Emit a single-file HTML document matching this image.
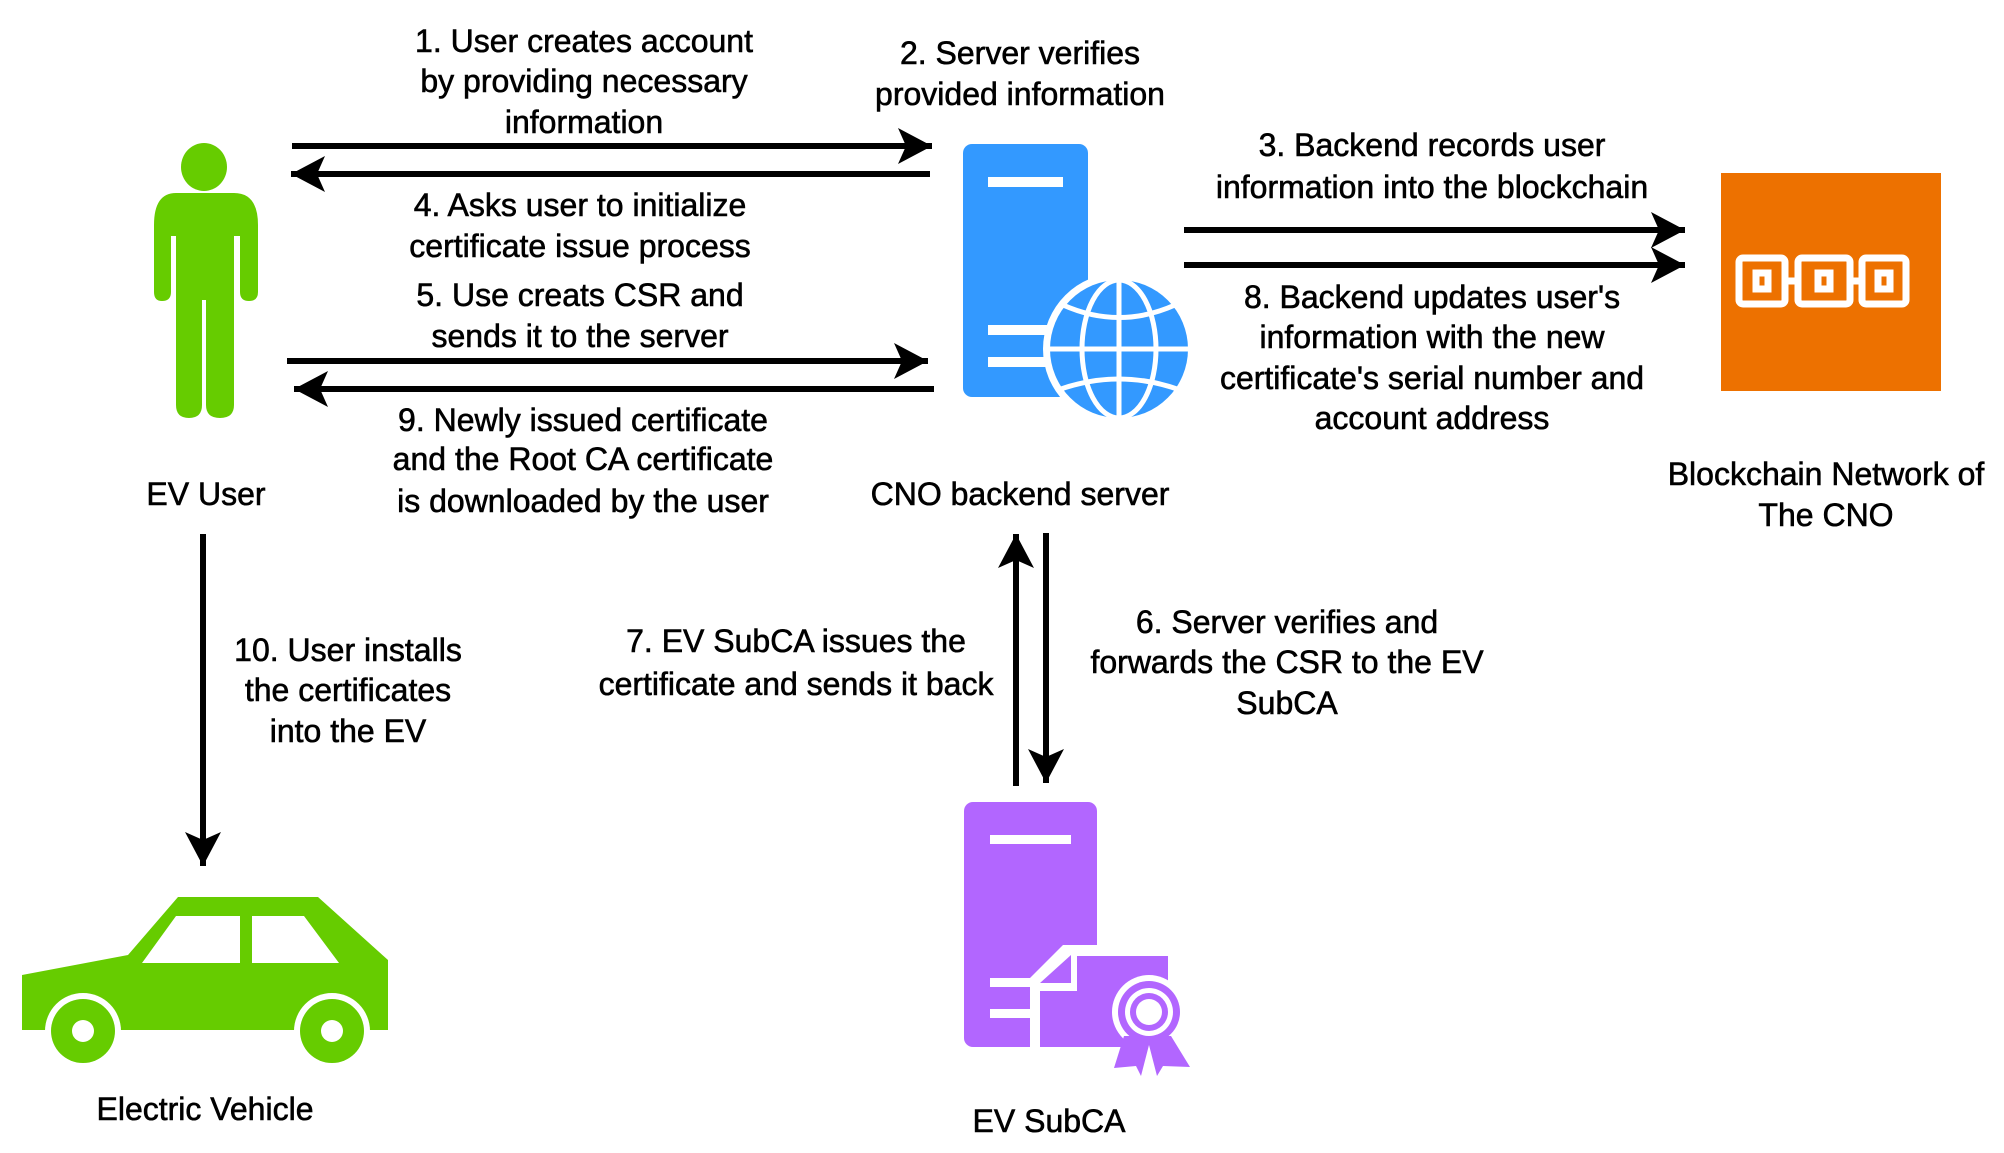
<!DOCTYPE html>
<html><head><meta charset="utf-8"><style>
html,body{margin:0;padding:0;background:#fff;}
svg{display:block;}
text{font-family:"Liberation Sans",Arial,sans-serif;font-size:32px;fill:#000;stroke:#000;stroke-width:0.6;text-anchor:middle;dominant-baseline:central;}
</style></head><body>
<svg width="2004" height="1153" viewBox="0 0 2004 1153" xmlns="http://www.w3.org/2000/svg">
<defs>
<marker id="ah" markerUnits="userSpaceOnUse" markerWidth="40" markerHeight="40" refX="34" refY="18" orient="auto">
<path d="M0,0 L34,18 L0,36 L8,18 Z" fill="#000"/>
</marker>
</defs>
<g stroke="#000" stroke-width="6" fill="none" marker-end="url(#ah)">
<line x1="292" y1="146" x2="932" y2="146"/>
<line x1="930" y1="174" x2="291" y2="174"/>
<line x1="287" y1="361" x2="928" y2="361"/>
<line x1="934" y1="389" x2="294" y2="389"/>
<line x1="1184" y1="230" x2="1685" y2="230"/>
<line x1="1184" y1="265" x2="1685" y2="265"/>
<line x1="203" y1="534" x2="203" y2="866"/>
<line x1="1016" y1="786" x2="1016" y2="534"/>
<line x1="1046" y1="533" x2="1046" y2="783"/>
</g>

<!-- person -->
<g fill="#66cc00">
<ellipse cx="204" cy="167" rx="23" ry="24"/>
<path d="M176,193 H234 Q258,193 258,225 V292 Q258,301 249,301 Q240,301 240,292 V236 H234 V405 Q234,418 220,418 Q206,418 206,405 V300 H202 V405 Q202,418 189,418 Q176,418 176,405 V236 H171 V292 Q171,301 162,301 Q154,301 154,292 V225 Q154,193 176,193 Z"/>
</g>

<!-- car -->
<g>
<path d="M22,975 L128,955 L178,897 L318,897 L388,960 L388,1030 L22,1030 Z" fill="#66cc00"/>
<path d="M142,963 L176,916 L240,916 L240,963 Z M252,916 L304,916 L339,963 L252,963 Z" fill="#fff"/>
<circle cx="83" cy="1031" r="38" fill="#fff"/>
<circle cx="332" cy="1031" r="38" fill="#fff"/>
<circle cx="83" cy="1031" r="32" fill="#66cc00"/>
<circle cx="332" cy="1031" r="32" fill="#66cc00"/>
<circle cx="83" cy="1031" r="11" fill="#fff"/>
<circle cx="332" cy="1031" r="11" fill="#fff"/>
</g>

<!-- CNO server -->
<g>
<rect x="963" y="144" width="125" height="253" rx="9" fill="#3399ff"/>
<rect x="988" y="177" width="75" height="10" fill="#fff"/>
<rect x="988" y="325" width="60" height="10" fill="#fff"/>
<rect x="988" y="357" width="60" height="10" fill="#fff"/>
<circle cx="1119" cy="349" r="76" fill="#fff"/>
<circle cx="1119" cy="349" r="69" fill="#3399ff"/>
<g stroke="#fff" stroke-width="5" fill="none">
<line x1="1119" y1="280" x2="1119" y2="418"/>
<ellipse cx="1119" cy="349" rx="37" ry="69"/>
<line x1="1050" y1="349" x2="1188" y2="349"/>
<path d="M1063,305 Q1119,330 1175,305"/>
<path d="M1058,390 Q1119,368 1180,390"/>
</g>
</g>

<!-- Blockchain -->
<rect x="1721" y="173" width="220" height="218" fill="#ed7100"/>
<g fill="none" stroke="#fff" stroke-width="7">
<rect x="1739" y="258" width="46" height="46" rx="4"/>
<rect x="1798" y="258" width="52" height="46" rx="4"/>
<rect x="1862" y="258" width="44" height="46" rx="4"/>
<rect x="1756" y="273" width="12" height="16"/>
<rect x="1818" y="273" width="12" height="16"/>
<rect x="1878" y="273" width="12" height="16"/>
<line x1="1785" y1="281" x2="1798" y2="281"/>
<line x1="1850" y1="281" x2="1862" y2="281"/>
</g>

<!-- SubCA -->
<g>
<rect x="964" y="802" width="133" height="245" rx="9" fill="#b266ff"/>
<rect x="990" y="835" width="81" height="9" fill="#fff"/>
<rect x="990" y="978" width="42" height="9" fill="#fff"/>
<rect x="990" y="1009" width="42" height="9" fill="#fff"/>
<path d="M1030,1050 L1030,978 L1063,945 L1100,945 L1100,1050 Z" fill="#fff"/>
<path d="M1040,991 L1077,991 L1077,956 L1168,956 L1168,1047 L1040,1047 Z" fill="#b266ff"/>
<path d="M1040,983 L1071,955 L1071,983 Z" fill="#b266ff"/>
<circle cx="1149" cy="1012" r="37" fill="#fff"/>
<path d="M1124,1036 L1114,1068 L1136,1066 L1141,1076 L1149,1045 L1157,1076 L1163,1066 L1190,1067 L1171,1036 Z" fill="#b266ff"/>
<circle cx="1149" cy="1012" r="31" fill="#b266ff"/>
<circle cx="1149" cy="1012" r="24" fill="#fff"/>
<circle cx="1149" cy="1012" r="19" fill="#b266ff"/>
<circle cx="1149" cy="1012" r="13" fill="#fff"/>
</g>

<!-- labels -->
<text x="584" y="41">1. User creates account</text>
<text x="584" y="81">by providing necessary</text>
<text x="584" y="122">information</text>
<text x="1020" y="53">2. Server verifies</text>
<text x="1020" y="94">provided information</text>
<text x="580" y="205">4. Asks user to initialize</text>
<text x="580" y="246">certificate issue process</text>
<text x="580" y="295">5. Use creats CSR and</text>
<text x="580" y="336">sends it to the server</text>
<text x="583" y="420">9. Newly issued certificate</text>
<text x="583" y="459">and the Root CA certificate</text>
<text x="583" y="501">is downloaded by the user</text>
<text x="1432" y="145">3. Backend records user</text>
<text x="1432" y="187">information into the blockchain</text>
<text x="1432" y="297">8. Backend updates user's</text>
<text x="1432" y="337">information with the new</text>
<text x="1432" y="378">certificate's serial number and</text>
<text x="1432" y="418">account address</text>
<text x="206" y="494">EV User</text>
<text x="1020" y="494">CNO backend server</text>
<text x="1826" y="474">Blockchain Network of</text>
<text x="1826" y="515">The CNO</text>
<text x="348" y="650">10. User installs</text>
<text x="348" y="690">the certificates</text>
<text x="348" y="731">into the EV</text>
<text x="796" y="641">7. EV SubCA issues the</text>
<text x="796" y="684">certificate and sends it back</text>
<text x="1287" y="622">6. Server verifies and</text>
<text x="1287" y="662">forwards the CSR to the EV</text>
<text x="1287" y="703">SubCA</text>
<text x="205" y="1109">Electric Vehicle</text>
<text x="1049" y="1121">EV SubCA</text>
</svg>
</body></html>
